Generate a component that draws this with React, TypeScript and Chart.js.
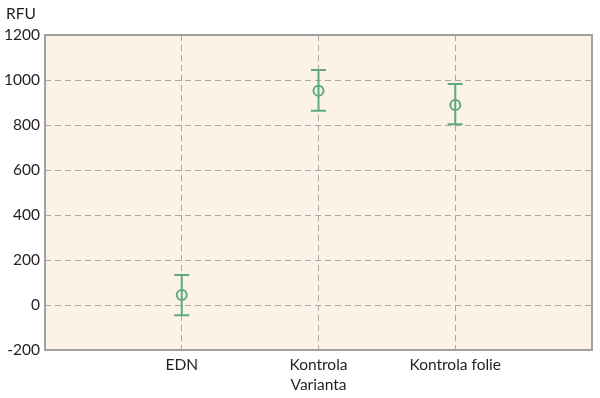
import React, { useEffect, useRef } from 'react';
import { Chart, registerables } from 'chart.js';

Chart.register(...registerables);

const categories = ['EDN', 'Kontrola', 'Kontrola folie'];
const means = [44, 952, 889];
const upper = [133, 1044, 982];
const lower = [-45, 863, 803];
const yMin = -200;
const yMax = 1200;
const yStep = 200;
const yTitle = 'RFU';
const xTitle = 'Varianta';

const GREEN = '#5DAA82';
const GRID = '#ABA7A3';
const TEXT = '#231F20';
const FONT = 'Lato';
const FS = 15.5;

export default function App() {
  const ref = useRef<HTMLCanvasElement>(null);
  useEffect(() => {
    document.body.style.margin = '0';
    const canvas = ref.current!;
    const bgPlugin = {
      id: 'bg',
      beforeDraw(chart: any) {
        const { ctx, chartArea: a } = chart;
        ctx.save();
        ctx.fillStyle = '#FCF2E7';
        ctx.fillRect(a.left, a.top, a.right - a.left, a.bottom - a.top);
        ctx.restore();
      },
      afterDraw(chart: any) {
        const { ctx, chartArea: a } = chart;
        ctx.save();
        ctx.strokeStyle = '#A3A09D';
        ctx.lineWidth = 2;
        ctx.strokeRect(a.left, a.top, a.right - a.left, a.bottom - a.top);
        ctx.fillStyle = TEXT;
        ctx.font = `${FS}px ${FONT}`;
        ctx.textAlign = 'left';
        ctx.textBaseline = 'middle';
        ctx.fillText(yTitle, 6, 14);
        ctx.restore();
      },
    };
    const errPlugin = {
      id: 'err',
      afterDatasetsDraw(chart: any) {
        const { ctx } = chart;
        const xs = chart.scales.x;
        const ys = chart.scales.y;
        ctx.save();
        ctx.strokeStyle = GREEN;
        ctx.lineWidth = 2;
        categories.forEach((_, i) => {
          const x = xs.getPixelForValue(i + 1);
          const yt = ys.getPixelForValue(upper[i]);
          const yb = ys.getPixelForValue(lower[i]);
          const ym = ys.getPixelForValue(means[i]);
          const r = 5;
          ctx.beginPath();
          ctx.moveTo(x, yt);
          ctx.lineTo(x, yb);
          ctx.moveTo(x - 7.5, yt);
          ctx.lineTo(x + 7.5, yt);
          ctx.moveTo(x - 7.5, yb);
          ctx.lineTo(x + 7.5, yb);
          ctx.stroke();
        });
        ctx.restore();
      },
    };
    const chart = new Chart(canvas, {
      type: 'scatter',
      data: {
        datasets: [
          {
            data: categories.map((_, i) => ({ x: i + 1, y: means[i] })),
            pointRadius: 5,
            pointBorderWidth: 2,
            pointBorderColor: GREEN,
            pointBackgroundColor: 'rgba(0,0,0,0)',
            pointHoverRadius: 5,
          },
        ],
      },
      options: {
        animation: false,
        responsive: false,
        devicePixelRatio: 1,
        layout: { padding: { top: 35, right: 8, left: 0, bottom: 0 } },
        plugins: { legend: { display: false }, tooltip: { enabled: false } },
        scales: {
          x: {
            type: 'linear',
            min: 0,
            max: 4,
            afterBuildTicks: (s: any) => {
              s.ticks = [0, 1, 2, 3, 4].map((v) => ({ value: v }));
            },
            afterFit: (s: any) => {
              s.height = 48;
            },
            border: { display: false, dash: [6, 4] },
            grid: {
              drawTicks: false,
              color: (c: any) => (c.tick && c.tick.value >= 1 && c.tick.value <= 3 ? GRID : 'rgba(0,0,0,0)'),
              lineWidth: 1,
            },
            ticks: {
              padding: 6,
              color: TEXT,
              font: { family: FONT, size: FS },
              callback: (v: any) => {
                const i = Number(v) - 1;
                return i >= 0 && i < categories.length && Number.isInteger(Number(v)) ? categories[i] : '';
              },
            },
            title: {
              display: true,
              text: xTitle,
              color: TEXT,
              font: { family: FONT, size: FS },
              padding: { top: 0, bottom: 4 },
            },
          },
          y: {
            min: yMin,
            max: yMax,
            afterFit: (s: any) => {
              s.width = 45;
            },
            border: { display: false, dash: [6, 4] },
            grid: {
              drawTicks: false,
              color: GRID,
              lineWidth: 1,
            },
            ticks: {
              stepSize: yStep,
              padding: 5,
              color: TEXT,
              font: { family: FONT, size: FS },
              callback: (v: any) => String(v),
            },
          },
        },
      } as any,
      plugins: [bgPlugin, errPlugin],
    });
    return () => chart.destroy();
  }, []);
  return <canvas ref={ref} width={600} height={398} style={{ display: 'block' }} />;
}
